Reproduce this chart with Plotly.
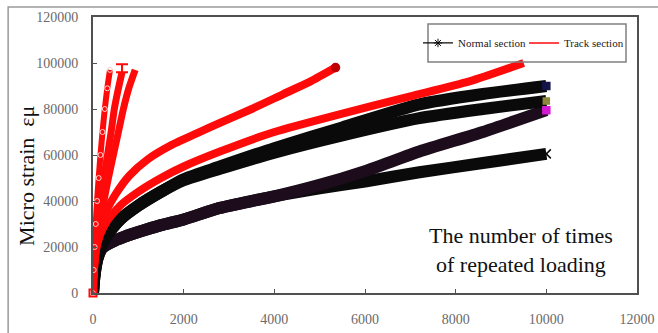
import plotly.graph_objects as go

# Number of repeated loading cycles and measured micro strain (με) per specimen.
# Normal section specimens
n1_cycles = [0, 20, 60, 150, 300, 600, 1000, 1500, 2000, 2800, 4000, 5500, 7200, 8600, 10000]
n1_strain = [0, 6000, 12000, 19000, 25000, 32000, 38000, 44000, 49500, 55000, 63000, 72000, 82000, 86500, 90000]

n2_cycles = [0, 20, 60, 150, 300, 600, 1000, 1500, 2000, 2800, 4000, 5500, 7200, 8600, 10000]
n2_strain = [0, 6000, 12000, 19000, 25000, 32000, 38000, 44000, 49000, 54000, 61000, 68500, 76000, 80000, 83500]

n3_cycles = [0, 20, 50, 100, 200, 400, 700, 1000, 1500, 2000, 2800, 4000, 5000, 6000, 7200, 8600, 10000]
n3_strain = [0, 5000, 10000, 15000, 19500, 22000, 24500, 26500, 29500, 32000, 37000, 42000, 47000, 53000, 61500, 70000, 79500]

n4_cycles = [0, 20, 50, 100, 200, 400, 700, 1000, 1500, 2000, 2800, 4000, 5000, 6000, 7200, 8600, 10000]
n4_strain = [0, 5000, 10000, 15000, 19500, 22000, 24500, 26500, 29500, 32000, 37000, 42000, 45500, 48500, 52500, 56500, 60500]

# Track section specimens
ta_cycles = [0, 15, 35, 60, 90, 125, 165, 210, 260, 315, 375]
ta_strain = [0, 10000, 20000, 30000, 40000, 50000, 60000, 70000, 80000, 89000, 97000]

tb_cycles = [0, 20, 60, 110, 170, 240, 320, 400, 470, 550, 640]
tb_strain = [0, 10000, 20000, 30000, 40000, 50000, 60000, 70000, 80000, 88000, 96000]
tb_cap = [0, 0, 0, 0, 0, 0, 0, 0, 0, 0, 3500]

tc_cycles = [0, 30, 80, 150, 240, 340, 450, 560, 670, 790, 930]
tc_strain = [0, 10000, 20000, 30000, 40000, 50000, 60000, 70000, 80000, 89000, 97000]

td_cycles = [0, 20, 60, 150, 300, 500, 800, 1200, 1700, 2300, 2800, 3500, 4200, 4800, 5350]
td_strain = [0, 11000, 20000, 29000, 36000, 43000, 51000, 58000, 64000, 69500, 74000, 80000, 86500, 92000, 98000]

te_cycles = [0, 20, 60, 150, 300, 600, 1000, 1500, 2000, 2800, 4000, 5500, 7000, 8300, 9500]
te_strain = [0, 10000, 18000, 25000, 31000, 38000, 44000, 50000, 55000, 61500, 70000, 78000, 85500, 92000, 100000]

x_ticks = [0, 2000, 4000, 6000, 8000, 10000, 12000]
y_ticks = [0, 20000, 40000, 60000, 80000, 100000, 120000]

BLACK = "#0a0a0a"
RED = "#ff0a0a"
SERIF = "Liberation Serif"

fig = go.Figure()


def band(x, y, color, width, name):
    fig.add_trace(go.Scatter(
        x=x, y=y, mode="lines", name=name, showlegend=False,
        line=dict(color=color, width=width, shape="spline", smoothing=0.6),
    ))


def end_mark(x, y, color, symbol, size):
    fig.add_trace(go.Scatter(
        x=[x[-1]], y=[y[-1]], mode="markers", showlegend=False,
        marker=dict(color=color, symbol=symbol, size=size,
                    line=dict(color=color, width=1.5)),
    ))


# Normal section curves
band(n4_cycles, n4_strain, BLACK, 12, "N4")
band(n3_cycles, n3_strain, "#1c0c1c", 12, "N3")
band(n2_cycles, n2_strain, BLACK, 12, "N2")
band(n1_cycles, n1_strain, BLACK, 12, "N1")
end_mark(n4_cycles, n4_strain, BLACK, "x-thin", 9)
end_mark(n3_cycles, n3_strain, "#d21ad2", "square", 7)
end_mark(n2_cycles, n2_strain, "#8c8a3a", "square", 6)
end_mark(n1_cycles, n1_strain, "#14144a", "square", 7)

# Track section curves
band(te_cycles, te_strain, RED, 8, "TE")
band(td_cycles, td_strain, RED, 8, "TD")
band(tc_cycles, tc_strain, RED, 7, "TC")
band(tb_cycles, tb_strain, RED, 7, "TB")
band(ta_cycles, ta_strain, RED, 6, "TA")
fig.add_trace(go.Scatter(
    x=ta_cycles, y=ta_strain, mode="markers", showlegend=False,
    marker=dict(symbol="circle-open", size=5, color="#ffd0d0", line=dict(width=1)),
))
end_mark(td_cycles, td_strain, "#c00000", "circle", 8)
fig.add_trace(go.Scatter(
    x=[tb_cycles[-1]], y=[tb_strain[-1]], mode="markers", showlegend=False,
    marker=dict(color=RED, size=1),
    error_y=dict(type="data", array=[tb_cap[-1]], arrayminus=[0],
                 color=RED, thickness=2, width=6, symmetric=False),
))
fig.add_trace(go.Scatter(
    x=[0], y=[0], mode="markers", showlegend=False, cliponaxis=False,
    marker=dict(symbol="square-open", size=7, color=RED, line=dict(width=2)),
))

# Legend entries
fig.add_trace(go.Scatter(
    x=[None], y=[None], mode="lines+markers", name="Normal section",
    line=dict(color=BLACK, width=1.2),
    marker=dict(symbol="asterisk-open", size=7, color=BLACK, line=dict(width=1)),
))
fig.add_trace(go.Scatter(
    x=[None], y=[None], mode="lines", name="Track section",
    line=dict(color=RED, width=1.5),
))

axis_common = dict(
    showgrid=False, zeroline=False, showline=True, mirror=True,
    linecolor="#505050", linewidth=2, ticks="inside", ticklen=4,
    tickcolor="#505050", tickformat="d",
    tickfont=dict(family=SERIF, size=14, color="#6a6a6a"),
)

fig.update_layout(
    width=658, height=333,
    margin=dict(l=93, r=21, t=17, b=40, autoexpand=False),
    paper_bgcolor="white", plot_bgcolor="white",
    xaxis=dict(range=[0, 12000], tickvals=x_ticks, ticklabelstandoff=12, **axis_common),
    yaxis=dict(range=[0, 120000], tickvals=y_ticks, ticklabelstandoff=10, **axis_common),
    showlegend=True,
    legend=dict(
        orientation="h", x=0.5974, y=0.906, xanchor="left", yanchor="middle",
        bgcolor="rgba(0,0,0,0)", borderwidth=0, itemwidth=30,
        entrywidth=61, entrywidthmode="pixels",
        font=dict(family=SERIF, size=11, color="#1a1a1a"),
    ),
    shapes=[
        # legend frame
        dict(type="rect", xref="paper", yref="paper",
             x0=0.6158, x1=0.9798, y0=0.837, y1=0.9746,
             line=dict(color="#808080", width=1.5), fillcolor="rgba(0,0,0,0)"),
        # chart area frame
        dict(type="rect", xref="paper", yref="paper",
             x0=-0.156, x1=1.1, y0=-0.2, y1=1.036,
             line=dict(color="#9a9a9a", width=1.5), fillcolor="rgba(0,0,0,0)", layer="below"),
    ],
    annotations=[
        dict(text="Micro strain\u00a0\u00a0εμ", xref="paper", yref="paper",
             x=-0.1215, y=0.424, textangle=-90, showarrow=False,
             xanchor="center", yanchor="middle",
             font=dict(family=SERIF, size=22, color="#111")),
        dict(text="The number of times<br>of repeated loading", xref="paper", yref="paper",
             x=0.787, y=0.156, showarrow=False, xanchor="center", yanchor="middle",
             font=dict(family=SERIF, size=22, color="#111")),
    ],
)

fig.write_html("out.html")
